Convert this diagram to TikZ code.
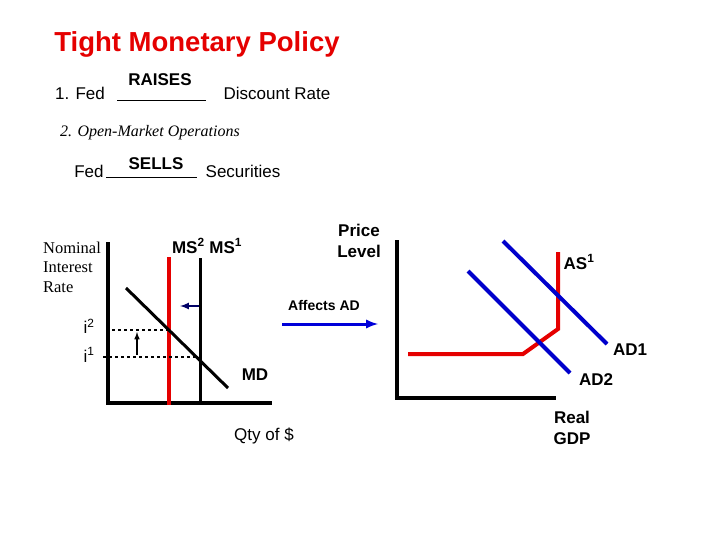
\documentclass[tikz,border=0pt]{standalone}
\usepackage{fontspec}
\setmainfont{Liberation Sans}
\newfontfamily\serf{Liberation Serif}
\begin{document}
\begin{tikzpicture}[x=1pt,y=-1pt,
 ax/.style={line width=4pt,black},
 lbl/.style={font=\fontsize{17}{20}\selectfont},
 blbl/.style={font=\bfseries\fontsize{17}{21}\selectfont},
 redl/.style={line width=4pt,red!90!black},
 bluel/.style={line width=4pt,blue!80!black},
 dsh/.style={dashed,line width=1.3pt}]
\useasboundingbox (0,0) rectangle (720,540);
\node[font=\bfseries\fontsize{27.5}{32}\selectfont,text=red!90!black] (title) at (197,44) {Tight Monetary Policy};
\node[lbl] (fed1) at (80,93) {1. Fed};
\node[blbl] (raises) at (160,80) {RAISES};
\coordinate (b1a) at (117,101); \coordinate (b1b) at (206,101);
\draw[line width=1pt] (b1a) -- (b1b);
\node[lbl] (dr) at (277,93) {Discount Rate};
\node[font=\serf\itshape\fontsize{16}{19}\selectfont] (omo) at (150,133) {2. Open-Market Operations};
\node[lbl] (fed2) at (89,171) {Fed};
\node[blbl] (sells) at (156,164) {SELLS};
\coordinate (b2a) at (106,178); \coordinate (b2b) at (197,178);
\draw[line width=1pt] (b2a) -- (b2b);
\node[lbl] (sec) at (243,171) {Securities};
% left graph
\node[font=\serf\fontsize{16.5}{19.5}\selectfont,align=left] (nir) at (72,267) {Nominal\\Interest\\Rate};
\coordinate (la) at (108,242); \coordinate (lo) at (108,403); \coordinate (lx) at (272,403);
\draw[ax] (la) -- (lo) -- (lx);
\coordinate (ms2t) at (169,257); \coordinate (ms2b) at (169,405);
\draw[redl] (ms2t) -- (ms2b);
\coordinate (ms1t) at (200,258); \coordinate (ms1b) at (200,403);
\draw[line width=3pt] (ms1t) -- (ms1b);
\coordinate (mdt) at (126,288); \coordinate (mdb) at (228,388);
\draw[line width=3pt] (mdt) -- (mdb);
\coordinate (i2a) at (112,330); \coordinate (i2b) at (169,330);
\coordinate (i1a) at (103,357); \coordinate (i1b) at (200,357);
\draw[dsh] (i2a) -- (i2b);
\draw[dsh] (i1a) -- (i1b);
\coordinate (ua) at (137,355); \coordinate (ub) at (137,332);
\draw[-latex,line width=1.5pt] (ua) -- (ub);
\coordinate (sa) at (199,306); \coordinate (sb) at (180,306);
\draw[-latex,line width=2pt,blue!40!black] (sa) -- (sb);
\node[lbl] (i2) at (89,326) {i\textsuperscript{2}};
\node[lbl] (i1) at (89,355) {i\textsuperscript{1}};
\node[blbl] (ms) at (207,246) {MS\textsuperscript{2} MS\textsuperscript{1}};
\node[blbl] (md) at (255,375) {MD};
\node[lbl] (qty) at (264,436) {Qty of \$};
\node[font=\bfseries\fontsize{14}{16}\selectfont] (aff) at (324,305) {Affects AD};
\coordinate (aa) at (282,324); \coordinate (ab) at (378,324);
\draw[-latex,line width=3pt,blue!85!black] (aa) -- (ab);
% right graph
\node[blbl,align=center] (pl) at (359,241) {Price\\Level};
\coordinate (ra) at (397,240); \coordinate (ro) at (397,398); \coordinate (rx) at (556,398);
\draw[ax] (ra) -- (ro) -- (rx);
\coordinate (as0) at (408,354); \coordinate (as1) at (523,354); \coordinate (as2) at (558,329); \coordinate (as3) at (558,252);
\draw[redl,line join=miter] (as0) -- (as1) -- (as2) -- (as3);
\coordinate (d1a) at (503,241); \coordinate (d1b) at (607,344);
\draw[bluel] (d1a) -- (d1b);
\coordinate (d2a) at (468,271); \coordinate (d2b) at (570,373);
\draw[bluel] (d2a) -- (d2b);
\node[blbl] (asl) at (579,262) {AS\textsuperscript{1}};
\node[blbl] (ad1) at (630,350) {AD1};
\node[blbl] (ad2) at (596,380) {AD2};
\node[blbl,align=center] (gdp) at (572,428) {Real\\GDP};
\end{tikzpicture}
\end{document}
